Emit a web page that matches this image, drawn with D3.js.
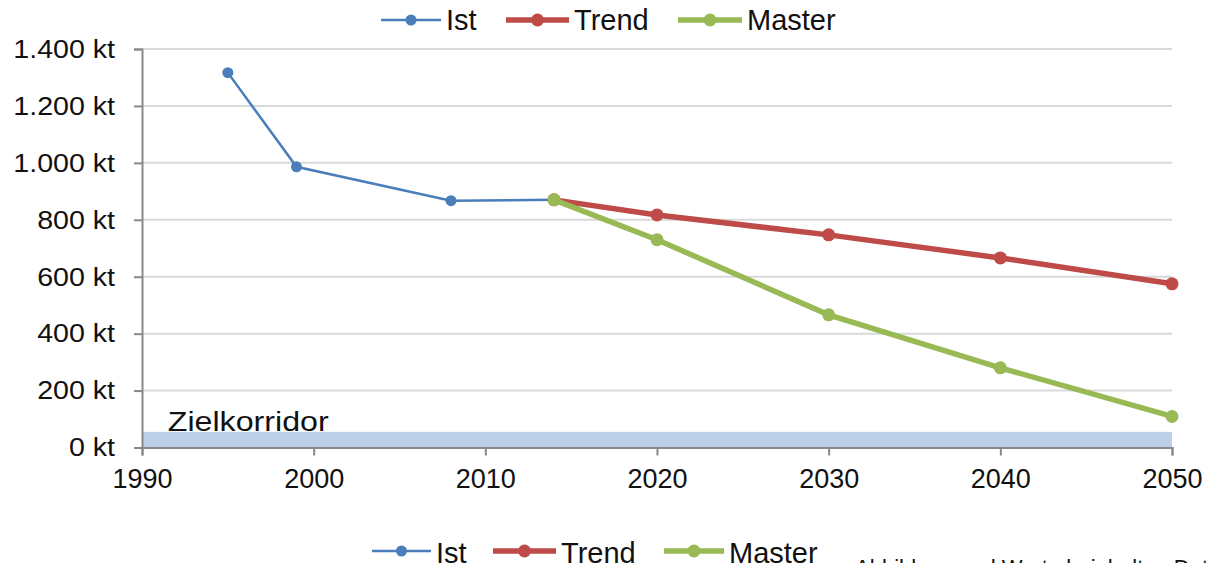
<!DOCTYPE html>
<html lang="de">
<head>
<meta charset="UTF-8">
<title>Ist / Trend / Master</title>
<script src="https://d3js.org/d3.v7.min.js"></script>
<style>
  body { margin: 0; background: #fff; }
  svg text { font-family: "Liberation Sans", Arial, sans-serif; fill: #111; }
</style>
</head>
<body>
<div id="chart"></div>
<script>
const width = 1207;
const height = 563;

// data (kt)
const istYears = [1995, 1999, 2008, 2014];
const istValues = [1317, 986, 867, 870];
const trendYears = [2014, 2020, 2030, 2040, 2050];
const trendValues = [870, 817, 747, 666, 575];
const masterYears = [2014, 2020, 2030, 2040, 2050];
const masterValues = [870, 730, 466, 280, 109];
const zielkorridor = [0, 55];
const xTicks = [1990, 2000, 2010, 2020, 2030, 2040, 2050];
const yTicks = [0, 200, 400, 600, 800, 1000, 1200, 1400];
const seriesNames = ["Ist", "Trend", "Master"];

const series = [
  { name: "Ist", years: istYears, values: istValues, color: "#4a7ebb", lw: 2.5, r: 5.5 },
  { name: "Trend", years: trendYears, values: trendValues, color: "#be4b48", lw: 5.5, r: 6.5 },
  { name: "Master", years: masterYears, values: masterValues, color: "#98b954", lw: 5.5, r: 6.5 }
];

const margin = { left: 142, right: 35, top: 49, bottom: 115.5 };

const x = d3.scaleLinear()
  .domain([1990, 2050])
  .range([margin.left, width - margin.right]);

const y = d3.scaleLinear()
  .domain([0, 1400])
  .range([height - margin.bottom, margin.top]);

const svg = d3.select("#chart").append("svg")
  .attr("width", width)
  .attr("height", height);

const fmt = d3.formatLocale({ decimal: ",", thousands: ".", grouping: [3], currency: ["", " €"] }).format(",");

// grid
svg.append("g")
  .selectAll("line")
  .data(yTicks.slice(1))
  .join("line")
  .attr("x1", x(1990))
  .attr("x2", x(2050))
  .attr("y1", d => y(d))
  .attr("y2", d => y(d))
  .attr("stroke", "#d9d9d9")
  .attr("stroke-width", 2);

// target band
svg.append("rect")
  .attr("x", x(1990))
  .attr("width", x(2050) - x(1990))
  .attr("y", y(zielkorridor[1]))
  .attr("height", y(zielkorridor[0]) - y(zielkorridor[1]))
  .attr("fill", "#bdd0e8");

svg.append("text")
  .attr("transform", `translate(${x(1991.5)},${y(zielkorridor[1]) - 1}) scale(1.15,1)`)
  .style("font-size", "28px")
  .text("Zielkorridor");

// axes
const yAxis = svg.append("g")
  .attr("transform", `translate(${margin.left},0)`)
  .call(d3.axisLeft(y).tickValues(yTicks).tickSize(8).tickPadding(8).tickFormat(d => fmt(d) + " kt"));

const xAxis = svg.append("g")
  .attr("transform", `translate(0,${y(0)})`)
  .call(d3.axisBottom(x).tickValues(xTicks).tickSize(8).tickPadding(13).tickFormat(d3.format("d")));

[yAxis, xAxis].forEach(a => {
  a.select(".domain").attr("stroke", "#888").attr("stroke-width", 2);
  a.selectAll(".tick line").attr("stroke", "#888").attr("stroke-width", 2);
  a.selectAll(".tick text").attr("fill", "#111");
});
yAxis.selectAll(".tick text")
  .style("font-size", "26px")
  .attr("x", -24.5)
  .attr("transform", "scale(1.1,1)");
xAxis.selectAll(".tick text").style("font-size", "27px");

// lines
const line = d3.line().x(d => x(d[0])).y(d => y(d[1]));

series.forEach(s => {
  const pts = s.years.map((yr, i) => [yr, s.values[i]]);
  svg.append("path")
    .datum(pts)
    .attr("fill", "none")
    .attr("stroke", s.color)
    .attr("stroke-width", s.lw)
    .attr("d", line);
  svg.append("g")
    .selectAll("circle")
    .data(pts)
    .join("circle")
    .attr("cx", d => x(d[0]))
    .attr("cy", d => y(d[1]))
    .attr("r", s.r)
    .attr("fill", s.color);
});

// legends
function legend(items, yLine, yText) {
  const g = svg.append("g");
  items.forEach(it => {
    const s = series.find(d => d.name === it.name);
    g.append("line")
      .attr("x1", it.x0).attr("x2", it.x1)
      .attr("y1", yLine).attr("y2", yLine)
      .attr("stroke", s.color).attr("stroke-width", s.lw);
    g.append("circle")
      .attr("cx", (it.x0 + it.x1) / 2).attr("cy", yLine)
      .attr("r", s.r).attr("fill", s.color);
    g.append("text")
      .attr("x", it.x1 + 5).attr("y", yText)
      .style("font-size", "29px")
      .text(it.name);
  });
}

legend([
  { name: seriesNames[0], x0: 381, x1: 441 },
  { name: seriesNames[1], x0: 506, x1: 569 },
  { name: seriesNames[2], x0: 678, x1: 742 }
], 20, 30);

legend([
  { name: seriesNames[0], x0: 372, x1: 431 },
  { name: seriesNames[1], x0: 493, x1: 556 },
  { name: seriesNames[2], x0: 664, x1: 724 }
], 551, 563);

// cut-off caption at bottom right
svg.append("text")
  .attr("x", 855)
  .attr("y", 575)
  .style("font-size", "22px")
  .text("Abbildung und Werte beinhalten Daten");
</script>
</body>
</html>
